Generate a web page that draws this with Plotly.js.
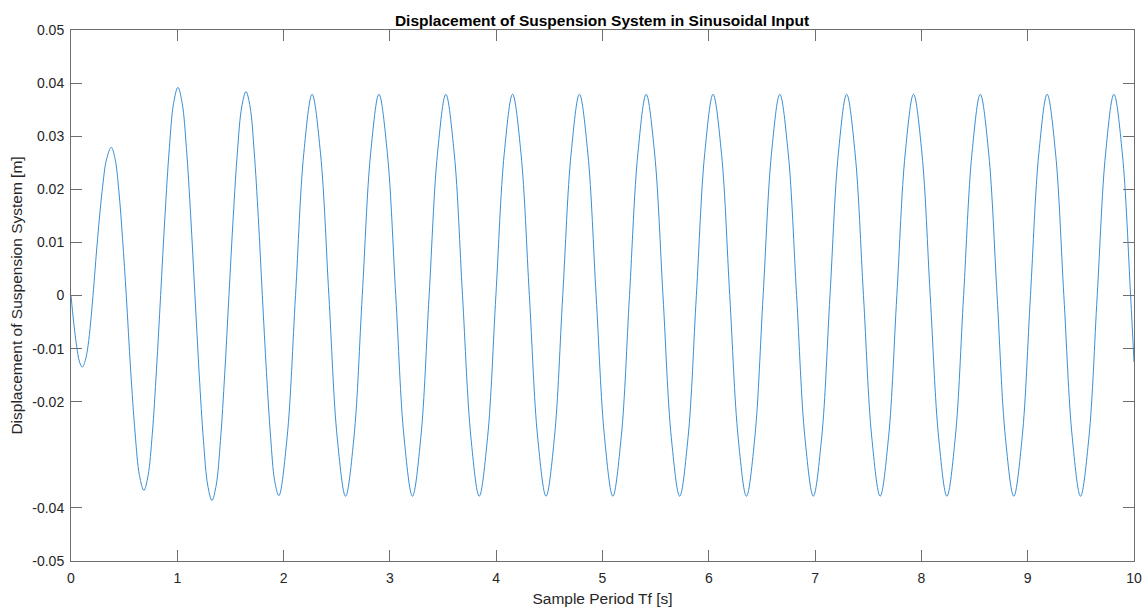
<!DOCTYPE html>
<html>
<head>
<meta charset="utf-8">
<script src="https://cdn.plot.ly/plotly-3.0.1.min.js"></script>
<style>
  html, body { margin: 0; padding: 0; background: #ffffff; }
  #chart { width: 1148px; height: 610px; }
</style>
</head>
<body>
<div id="chart"></div>
<script>
// Sample times [s] (extrema, zero crossings and mid points)
const time = [
  0.000, 0.026, 0.053, 0.080, 0.106,
  0.135, 0.160, 0.185, 0.207,
  0.250, 0.293, 0.336, 0.379,
  0.414, 0.450, 0.485, 0.520, 0.561, 0.603, 0.644, 0.686,
  0.725, 0.765, 0.804, 0.843, 0.884, 0.925, 0.965, 1.006,
  1.046, 1.086, 1.126, 1.166, 1.206, 1.246, 1.286, 1.326,
  1.366, 1.406, 1.446, 1.486, 1.526, 1.566, 1.606, 1.646,
  1.685, 1.723, 1.762, 1.800, 1.839, 1.878, 1.916, 1.955,
  2.033, 2.112, 2.190, 2.268,
  2.347, 2.426, 2.504, 2.583,
  2.662, 2.740, 2.819, 2.897,
  2.976, 3.055, 3.133, 3.212,
  3.291, 3.369, 3.448, 3.526,
  3.605, 3.683, 3.762, 3.840,
  3.919, 3.997, 4.076, 4.154,
  4.233, 4.312, 4.390, 4.469,
  4.548, 4.626, 4.705, 4.783,
  4.862, 4.940, 5.019, 5.097,
  5.176, 5.254, 5.333, 5.411,
  5.490, 5.569, 5.647, 5.726,
  5.805, 5.883, 5.962, 6.040,
  6.119, 6.197, 6.276, 6.354,
  6.433, 6.511, 6.590, 6.668,
  6.747, 6.826, 6.904, 6.983,
  7.062, 7.140, 7.219, 7.297,
  7.376, 7.455, 7.533, 7.612,
  7.691, 7.769, 7.848, 7.926,
  8.005, 8.083, 8.162, 8.240,
  8.319, 8.397, 8.476, 8.554,
  8.633, 8.712, 8.790, 8.869,
  8.948, 9.026, 9.105, 9.183,
  9.262, 9.340, 9.419, 9.497,
  9.576, 9.654, 9.733, 9.811,
  9.890, 9.968, 10.000
];

// Displacement [m] at the times above
const displacement = [
  0.0000, -0.0052, -0.0095, -0.0125, -0.0135,
  -0.0122, -0.0095, -0.0050, 0.0000,
  0.0107, 0.0197, 0.0258, 0.0279,
  0.0258, 0.0197, 0.0107, 0.0000, -0.0140, -0.0259, -0.0339, -0.0367,
  -0.0339, -0.0260, -0.0140, 0.0000, 0.0150, 0.0277, 0.0362, 0.0392,
  0.0362, 0.0277, 0.0150, 0.0000, -0.0148, -0.0273, -0.0357, -0.0386,
  -0.0357, -0.0273, -0.0148, 0.0000, 0.0147, 0.0272, 0.0355, 0.0384,
  0.0355, 0.0272, 0.0147, 0.0000, -0.0145, -0.0267, -0.0349, -0.0377,
  -0.0267, 0.0000, 0.0268, 0.0379,
  0.0268, 0.0000, -0.0267, -0.0378,
  -0.0267, 0.0000, 0.0268, 0.0379,
  0.0268, 0.0000, -0.0267, -0.0378,
  -0.0267, 0.0000, 0.0268, 0.0379,
  0.0268, 0.0000, -0.0267, -0.0378,
  -0.0267, 0.0000, 0.0268, 0.0379,
  0.0268, 0.0000, -0.0267, -0.0378,
  -0.0267, 0.0000, 0.0268, 0.0379,
  0.0268, 0.0000, -0.0267, -0.0378,
  -0.0267, 0.0000, 0.0268, 0.0379,
  0.0268, 0.0000, -0.0267, -0.0378,
  -0.0267, 0.0000, 0.0268, 0.0379,
  0.0268, 0.0000, -0.0267, -0.0378,
  -0.0267, 0.0000, 0.0268, 0.0379,
  0.0268, 0.0000, -0.0267, -0.0378,
  -0.0267, 0.0000, 0.0268, 0.0379,
  0.0268, 0.0000, -0.0267, -0.0378,
  -0.0267, 0.0000, 0.0268, 0.0379,
  0.0268, 0.0000, -0.0267, -0.0378,
  -0.0267, 0.0000, 0.0268, 0.0379,
  0.0268, 0.0000, -0.0267, -0.0378,
  -0.0267, 0.0000, 0.0268, 0.0379,
  0.0268, 0.0000, -0.0267, -0.0378,
  -0.0267, 0.0000, 0.0268, 0.0379,
  0.0268, 0.0000, -0.0125
];

// Axis ticks (the reference has no -0.03 tick)
const xTickVals = [0, 1, 2, 3, 4, 5, 6, 7, 8, 9, 10];
const xTickText = ['0', '1', '2', '3', '4', '5', '6', '7', '8', '9', '10'];
const yTickVals = [-0.05, -0.04, -0.02, -0.01, 0, 0.01, 0.02, 0.03, 0.04, 0.05];
const yTickText = ['-0.05', '-0.04', '-0.02', '-0.01', '0', '0.01', '0.02', '0.03', '0.04', '0.05'];

const titleText = 'Displacement of Suspension System in Sinusoidal Input';
const xTitle = 'Sample Period Tf [s]';
const yTitle = 'Displacement of Suspension System [m]';

const FONT = '"Liberation Sans", Arial, Helvetica, sans-serif';
const AXIS_COLOR = '#6e6e6e';
const TEXT_COLOR = '#262626';

const trace = {
  x: time,
  y: displacement,
  type: 'scatter',
  mode: 'lines',
  line: { color: '#3a8fd6', width: 1, shape: 'spline', smoothing: 1 },
  hoverinfo: 'x+y',
  showlegend: false
};

const axisCommon = {
  showgrid: false,
  zeroline: false,
  showline: true,
  linecolor: AXIS_COLOR,
  linewidth: 1,
  mirror: 'ticks',
  ticks: 'inside',
  ticklen: 11,
  tickwidth: 1,
  tickcolor: AXIS_COLOR,
  tickmode: 'array',
  tickfont: { family: FONT, size: 14, color: TEXT_COLOR }
};

const layout = {
  width: 1148,
  height: 610,
  margin: { l: 71, r: 14, t: 30, b: 49, pad: 0 },
  paper_bgcolor: '#ffffff',
  plot_bgcolor: '#ffffff',
  font: { family: FONT, color: TEXT_COLOR },
  title: {
    text: '<b>' + titleText + '</b>',
    font: { family: FONT, size: 15.5, color: '#000000' },
    x: 0.5244, xanchor: 'center',
    y: 1, yref: 'paper', yanchor: 'bottom',
    pad: { b: 4 }
  },
  xaxis: Object.assign({}, axisCommon, {
    range: [0, 10],
    tickvals: xTickVals,
    ticktext: xTickText,
    ticklabelstandoff: 4,
    title: { text: xTitle, font: { family: FONT, size: 15.5, color: TEXT_COLOR }, standoff: 8 }
  }),
  yaxis: Object.assign({}, axisCommon, {
    range: [-0.05, 0.05],
    tickvals: yTickVals,
    ticktext: yTickText,
    ticklabelstandoff: 3,
    title: { text: yTitle, font: { family: FONT, size: 15.5, color: TEXT_COLOR }, standoff: 5 }
  })
};

Plotly.newPlot('chart', [trace], layout, { displayModeBar: false, responsive: false, staticPlot: true });
</script>
</body>
</html>
